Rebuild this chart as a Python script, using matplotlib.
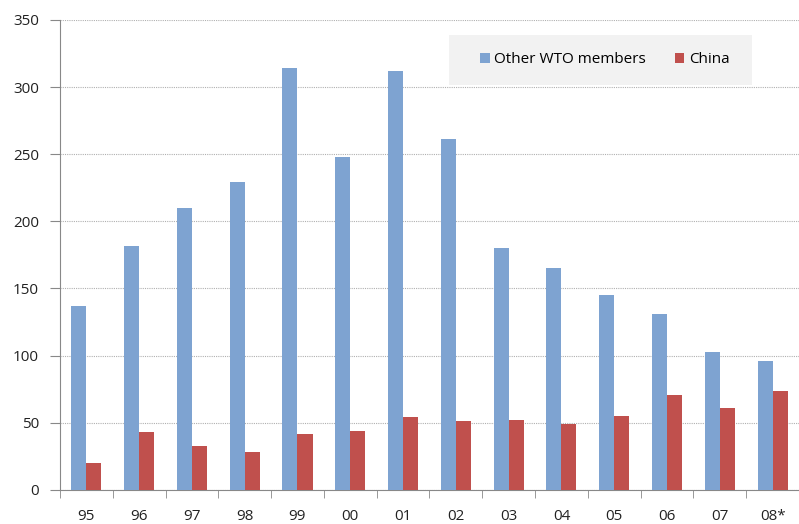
import matplotlib.pyplot as plt
import numpy as np
from matplotlib.patches import Rectangle

years = ["95", "96", "97", "98", "99", "00", "01", "02", "03", "04", "05", "06", "07", "08*"]
other_wto = [137, 182, 210, 229, 314, 248, 312, 261, 180, 165, 145, 131, 103, 96]
china = [20, 43, 33, 28, 42, 44, 54, 51, 52, 49, 55, 71, 61, 74]

plt.rcParams['font.family'] = ['Open Sans', 'DejaVu Sans']

fig = plt.figure(figsize=(7.99, 5.24), dpi=100)
ax = fig.add_axes([0.075, 0.065, 0.925, 0.897])

x = np.arange(len(years))
w = 0.285
ax.bar(x - w/2, other_wto, w, color="#7EA3D1", label="Other WTO members", zorder=3)
ax.bar(x + w/2, china, w, color="#C0504D", label="China", zorder=3)

ax.set_xlim(-0.5, len(years) - 0.5)
ax.set_ylim(0, 350)
ax.set_yticks(range(0, 351, 50))
ax.yaxis.grid(True, linestyle=(0, (1, 1)), color="#b0b0b0", linewidth=0.8, zorder=0)

# category labels at centers, tick marks at boundaries
ax.set_xticks(x)
ax.set_xticklabels(years, fontsize=11, color="#222222")
ax.tick_params(axis='x', which='major', length=0, pad=14)
ax.set_xticks(np.arange(-0.5, len(years), 1), minor=True)
ax.tick_params(axis='x', which='minor', length=6, color="#888888", direction='out')
ax.tick_params(axis='y', length=7, color="#888888", labelsize=11, labelcolor="#222222", pad=8)

for s in ["top", "right"]:
    ax.spines[s].set_visible(False)
for s in ["left", "bottom"]:
    ax.spines[s].set_color("#888888")

# legend on a light gray box
ax.add_patch(Rectangle((0.527, 0.862), 0.41, 0.106, transform=ax.transAxes,
                       facecolor="#f2f2f2", edgecolor="none", zorder=4))
leg = ax.legend(loc="center right", bbox_to_anchor=(0.914, 0.915), ncol=2, frameon=False,
                fontsize=11, handlelength=0.6, handleheight=0.6, handletextpad=0.3,
                columnspacing=1.9, borderaxespad=0.0)
leg.set_zorder(5)

fig.savefig("out.png", dpi=100)
